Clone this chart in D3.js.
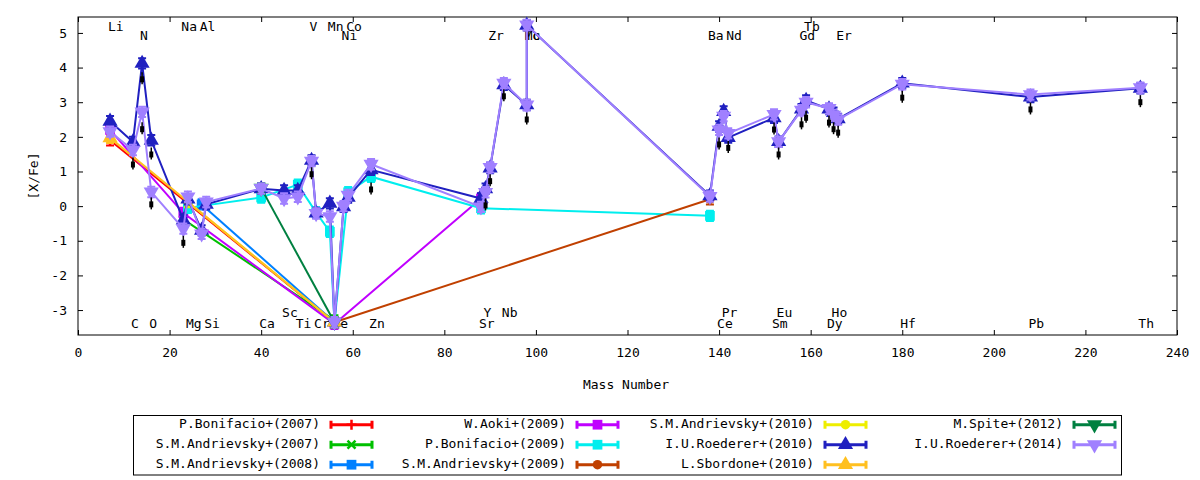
<!DOCTYPE html>
<html>
<head>
<meta charset="utf-8">
<script src="https://cdn.jsdelivr.net/npm/d3@7"></script>
<style>
body { margin: 0; background: #fff; }
text { font-family: "DejaVu Sans Mono", monospace; font-size: 13px; fill: #000; }
</style>
</head>
<body>
<svg id="chart" width="1200" height="480"></svg>
<script>
// element labels (mass number of most abundant isotope)
const labelNames = ["Li","Na","Al","V","Mn","Co","Tb",
                    "N","Ni","Zr","Mo","Tc","Ba","Nd","Gd","Er",
                    "Sc","Y","Nb","Pr","Eu","Ho",
                    "C","O","Mg","Si","Ca","Ti","Cr","Fe","Zn","Sr","Ce","Sm","Dy","Hf","Pb","Th"]
const labelMass = [7,23,27,51,55,59,159,
                   14,58,90,98,98,138,142,158,166,
                   45,89,93,141,153,165,
                   12,16,24,28,40,48,52,56,64,88,140,152,164,180,208,232]
const labelRow = [0,0,0,0,0,0,0,
                  1,1,1,1,1,1,1,1,1,
                  2,2,2,2,2,2,
                  3,3,3,3,3,3,3,3,3,3,3,3,3,3,3,3]

// series values [X/Fe] (Fe point is [Fe/H])
const bon07X = [7, 56], bon07Y = [1.9, -3.35]
const andr07X = [23, 56], andr07Y = [-0.38, -3.3]
const andr08X = [27, 56], andr08Y = [0.05, -3.35]
const aoki09X = [7, 23, 56, 88], aoki09Y = [2.2, -0.2, -3.4, 0.22]
const bon09X = [24, 40, 48, 52, 55, 56, 59, 64, 88, 138]
const bon09Y = [-0.05, 0.25, 0.62, -0.18, -0.74, -3.35, 0.4, 0.85, -0.06, -0.28]
const andr09X = [56, 138], andr09Y = [-3.35, 0.2]
const andr10X = [24, 56], andr10Y = [0.12, -3.35]
const roeX = [7,12,14,16,23,24,27,28,40,45,48,51,52,55,56,58,59,64,88,89,90,93,98,98,
              138,140,141,142,152,153,158,159,164,165,166,180,208,232]
const roe10Y = [2.45,1.85,4.12,1.9,-0.4,0.2,-0.7,0.05,0.5,0.45,0.45,1.32,-0.2,0.08,-3.35,-0.02,0.25,1.05,
                0.22,0.5,1.1,3.5,2.92,5.22,0.3,2.3,2.73,1.98,2.55,1.86,2.8,3.05,2.8,2.7,2.52,3.55,3.15,3.4]
const sbor10X = [7, 56], sbor10Y = [1.97, -3.35]
const spite12X = [40, 56], spite12Y = [0.52, -3.35]
const roe14Y = [2.15,1.62,2.72,0.41,-0.65,0.27,-0.8,0.12,0.51,0.22,0.27,1.3,-0.21,-0.3,-3.35,0.0,0.32,1.21,
                -0.02,0.4,1.12,3.55,2.92,5.23,0.28,2.2,2.6,2.1,2.65,1.86,2.77,3.0,2.82,2.63,2.5,3.52,3.22,3.42]
const errSize = 0.15

// black marks below the Roederer points
const barX = [12,14,14,16,16,23,51,64,89,90,93,98,140,142,152,153,158,159,164,165,166,180,208,232]
const barY = [1.23,3.69,2.25,1.52,0.08,-1.03,0.95,0.51,0.05,0.75,3.2,2.53,1.81,1.71,2.24,1.52,2.39,2.58,2.44,2.25,2.15,3.16,2.82,3.03]

const series = [
  {name: "P.Bonifacio+(2007)", color: "#ff0000", mark: "plus", xs: bon07X, ys: bon07Y},
  {name: "S.M.Andrievsky+(2007)", color: "#00c000", mark: "cross", xs: andr07X, ys: andr07Y},
  {name: "S.M.Andrievsky+(2008)", color: "#0080ff", mark: "square", xs: andr08X, ys: andr08Y},
  {name: "W.Aoki+(2009)", color: "#c000ff", mark: "square", xs: aoki09X, ys: aoki09Y},
  {name: "P.Bonifacio+(2009)", color: "#00eeee", mark: "square", xs: bon09X, ys: bon09Y},
  {name: "S.M.Andrievsky+(2009)", color: "#c04000", mark: "circle", xs: andr09X, ys: andr09Y},
  {name: "S.M.Andrievsky+(2010)", color: "#eeee00", mark: "circle", xs: andr10X, ys: andr10Y},
  {name: "I.U.Roederer+(2010)", color: "#2020c0", mark: "triUp", xs: roeX, ys: roe10Y},
  {name: "L.Sbordone+(2010)", color: "#ffc020", mark: "triUp", xs: sbor10X, ys: sbor10Y},
  {name: "M.Spite+(2012)", color: "#008040", mark: "triDown", xs: spite12X, ys: spite12Y},
  {name: "I.U.Roederer+(2014)", color: "#a080ff", mark: "triDown", xs: roeX, ys: roe14Y}
]

const svg = d3.select("#chart")
const x = d3.scaleLinear().domain([0, 240]).range([78, 1177])
const y = d3.scaleLinear().domain([-3.72, 5.46]).range([335, 17])

function drawMark(g, type, color, px, py) {
  if (type == "plus" || type == "cross") {
    let d = type == "plus" ? "M-5,0H5M0,-5V5" : "M-4,-4L4,4M-4,4L4,-4"
    g.append("path").attr("d", d)
      .attr("transform", "translate(" + px + "," + py + ")")
      .attr("stroke", color).attr("stroke-width", 2.5).attr("fill", "none")
    return
  }
  let sym = {square: d3.symbolSquare, circle: d3.symbolCircle,
             triUp: d3.symbolTriangle, triDown: d3.symbolTriangle}[type]
  let size = {square: 95, circle: 70, triUp: 100, triDown: 100}[type]
  let rot = type == "triDown" ? " rotate(180)" : ""
  g.append("path").attr("d", d3.symbol(sym, size)())
    .attr("transform", "translate(" + px + "," + py + ")" + rot)
    .attr("fill", color)
}

// axes (gnuplot style, inward ticks on all sides)
let ticksX = d3.range(0, 241, 20), ticksY = d3.range(-3, 6)
let axB = svg.append("g").attr("transform", "translate(0,335)")
  .call(d3.axisBottom(x).tickValues(ticksX).tickSizeInner(-5).tickSizeOuter(0).tickPadding(13))
let axT = svg.append("g").attr("transform", "translate(0,17)")
  .call(d3.axisTop(x).tickValues(ticksX).tickSizeInner(-5).tickSizeOuter(0).tickFormat(""))
let axL = svg.append("g").attr("transform", "translate(78,0)")
  .call(d3.axisLeft(y).tickValues(ticksY).tickSizeInner(-5).tickSizeOuter(0).tickPadding(11))
let axR = svg.append("g").attr("transform", "translate(1177,0)")
  .call(d3.axisRight(y).tickValues(ticksY).tickSizeInner(-5).tickSizeOuter(0).tickFormat(""))
for (let a of [axB, axT, axL, axR]) {
  a.select(".domain").remove()
  a.attr("font-family", null).attr("font-size", null)
  a.selectAll("line").attr("stroke", "#000")
}
axL.selectAll("text").text(d => d < 0 ? "-" + Math.abs(d) : d)

svg.append("rect").attr("x", 78).attr("y", 17).attr("width", 1177 - 78).attr("height", 335 - 17)
  .attr("fill", "none").attr("stroke", "#000").attr("stroke-width", 1)

svg.append("text").attr("transform", "translate(34,176) rotate(-90)")
  .attr("text-anchor", "middle").attr("dominant-baseline", "middle").text("[X/Fe]")
svg.append("text").attr("x", 626).attr("y", 385)
  .attr("text-anchor", "middle").attr("dominant-baseline", "middle").text("Mass Number")

// element labels
const rowY = [27, 36, 313, 324]
svg.append("g").selectAll("text")
  .data(labelNames)
  .enter().append("text")
  .attr("x", (d, i) => x(labelMass[i]) - 2)
  .attr("y", (d, i) => rowY[labelRow[i]])
  .attr("dominant-baseline", "middle")
  .text(d => d)

// data series
let plot = svg.append("g")
series.forEach(s => {
  let g = plot.append("g")
  let pts = s.xs.map((m, i) => [m, s.ys[i]])
  g.append("path").datum(pts)
    .attr("d", d3.line().x(d => x(d[0])).y(d => y(d[1])))
    .attr("fill", "none").attr("stroke", s.color).attr("stroke-width", 2)
  pts.forEach(p => {
    let px = x(p[0]), y0 = y(p[1] - errSize), y1 = y(p[1] + errSize)
    g.append("path")
      .attr("d", "M" + px + "," + y0 + "V" + y1 + "M" + (px - 4) + "," + y0 + "H" + (px + 4) + "M" + (px - 4) + "," + y1 + "H" + (px + 4))
      .attr("stroke", s.color).attr("stroke-width", 2).attr("fill", "none")
    drawMark(g, s.mark, s.color, px, y(p[1]))
  })
})

// black marks
let bars = svg.append("g")
barX.forEach((m, i) => {
  let px = x(m), py = y(barY[i])
  bars.append("line").attr("x1", px).attr("x2", px).attr("y1", py - 6).attr("y2", py + 6)
    .attr("stroke", "#000").attr("stroke-width", 1.5)
  bars.append("rect").attr("x", px - 2).attr("y", py - 2).attr("width", 4).attr("height", 6)
    .attr("fill", "#000")
})

// legend
svg.append("rect").attr("x", 133.5).attr("y", 415.5).attr("width", 988).attr("height", 59.5)
  .attr("fill", "#fff").attr("stroke", "#000").attr("stroke-width", 1)
const legTextEnd = [320, 566, 814, 1063]
const legRowY = [424.7, 444.7, 464.7]
let leg = svg.append("g")
series.forEach((s, i) => {
  let col = Math.floor(i / 3), row = i % 3
  let tx = legTextEnd[col], ty = legRowY[row]
  let x0 = tx + 10, x1 = tx + 53
  leg.append("text").attr("x", tx).attr("y", ty)
    .attr("text-anchor", "end").attr("dominant-baseline", "middle").text(s.name)
  leg.append("path")
    .attr("d", "M" + x0 + "," + ty + "H" + x1 + "M" + (x0 + 1) + "," + (ty - 4) + "V" + (ty + 4) + "M" + (x1 - 1) + "," + (ty - 4) + "V" + (ty + 4))
    .attr("stroke", s.color).attr("stroke-width", 3).attr("fill", "none")
  drawMark(leg, s.mark, s.color, (x0 + x1) / 2, ty)
})
</script>
</body>
</html>
